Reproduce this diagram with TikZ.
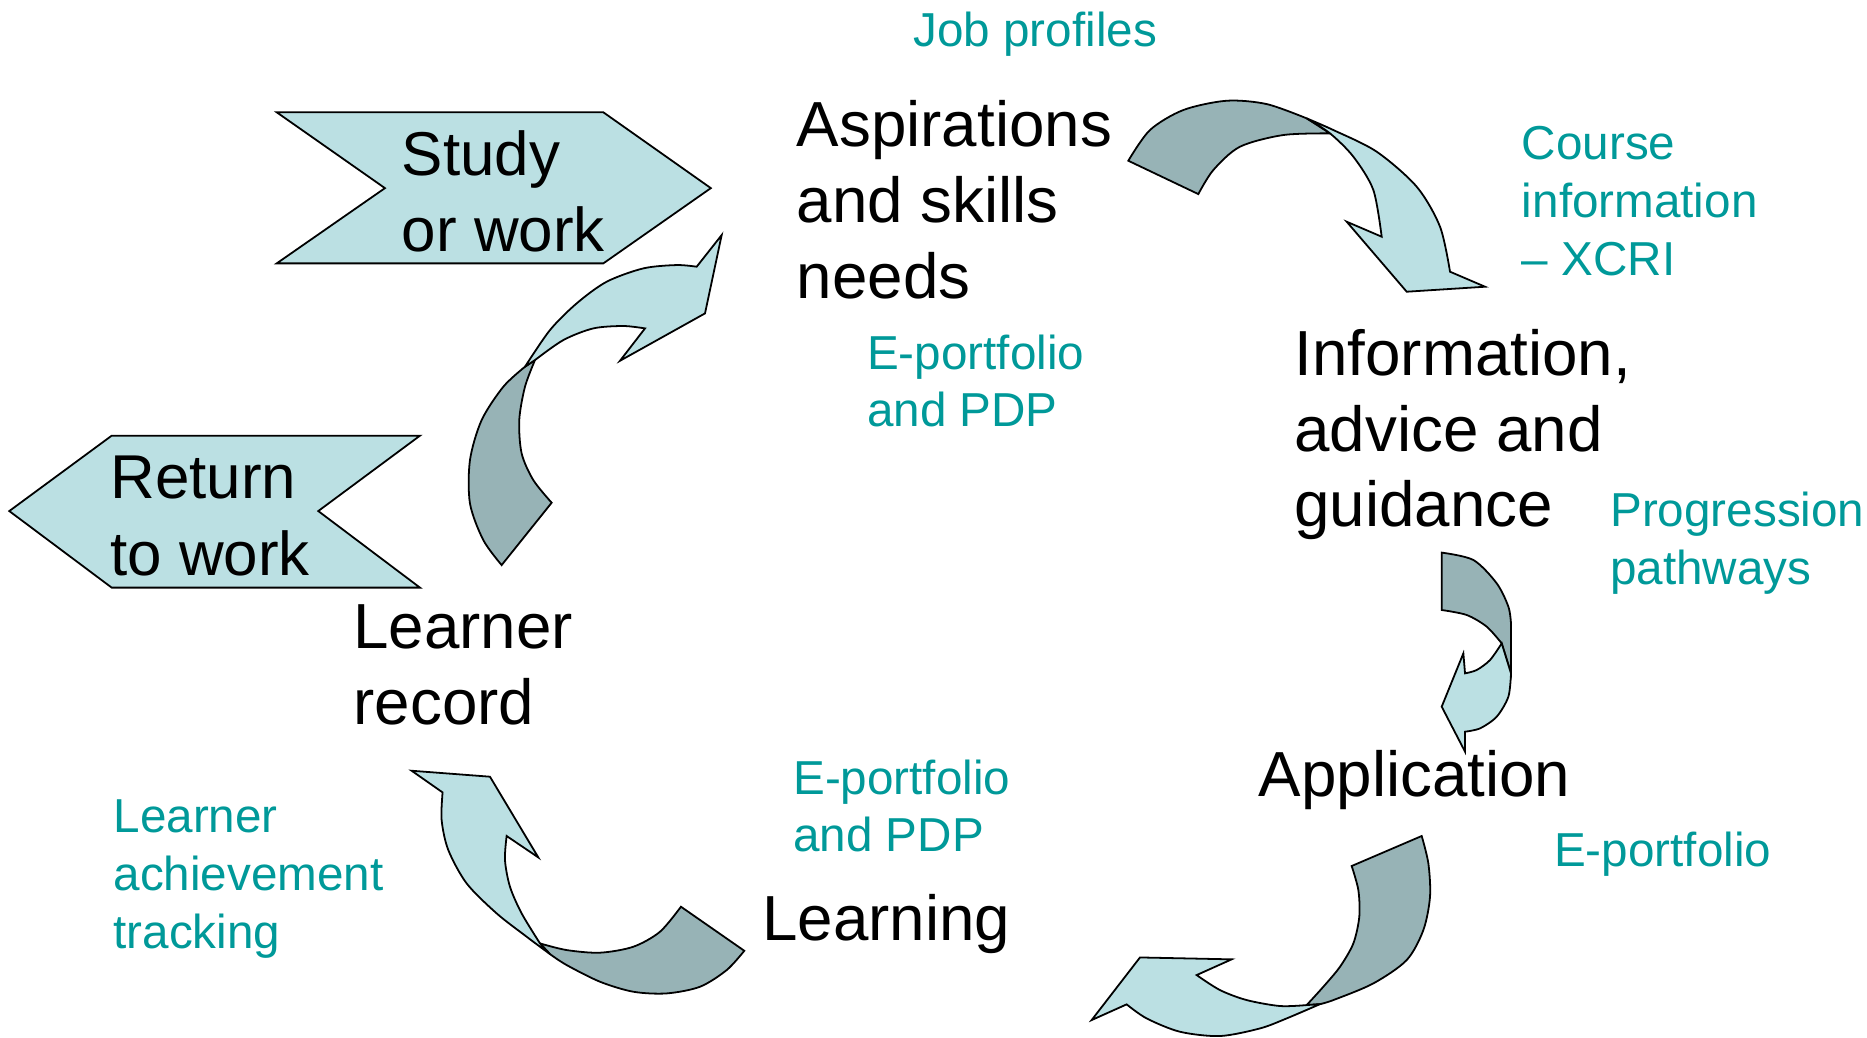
\documentclass[tikz,border=0pt]{standalone}
\usepackage{fontspec}
\setmainfont{Liberation Sans}
\definecolor{lightfill}{HTML}{BBE0E3}
\definecolor{darkfill}{HTML}{97B3B6}
\definecolor{tealtext}{HTML}{009999}
\begin{document}
\begin{tikzpicture}[x=1pt,y=-1pt,
  lightpart/.style={fill=lightfill, draw=black, line width=1.5pt},
  darkpart/.style={fill=darkfill, draw=black, line width=1.5pt},
  chevron/.style={fill=lightfill, draw=black, line width=1.5pt},
  stage/.style={font=\fontsize{53.5}{63.5}\selectfont, align=left, inner sep=0pt, anchor=base west},
  chevtext/.style={font=\fontsize{52}{64}\selectfont, align=left, inner sep=0pt, anchor=base west},
  note/.style={font=\fontsize{40}{48.5}\selectfont, text=tealtext, align=left, inner sep=0pt, anchor=base west}]
\useasboundingbox (0,0) rectangle (1568,871);

% chevrons
\draw[chevron] (232.4,94.3) -- (506.7,94.3) -- (597,158) -- (506.7,221.2) -- (232.4,221.2) -- (323.3,158) -- cycle;
\draw[chevron] (7.8,429.2) -- (93.8,365.9) -- (352.7,365.9) -- (267.3,429.2) -- (352.7,493.5) -- (93.8,493.5) -- cycle;

% arrow A: aspirations -> information
\draw[darkpart] plot[smooth] coordinates {(947.6,135) (965.8,109.2) (993.8,92.4) (1030.2,84.6) (1063.8,87.4) (1097.4,99.4)}
  -- (1117,112) -- plot[smooth] coordinates {(1117,112) (1077.8,113.4) (1041.4,123.2) (1019,142.8) (1006.4,163)} -- cycle;
\draw[lightpart] plot[smooth] coordinates {(1097.4,99.4) (1119.8,109.2) (1156.2,127.4) (1189.8,156.8) (1209.4,190.4) (1217.8,228.2)}
  -- (1247.2,240.8) -- (1181.4,245) -- (1131,186.2)
  -- plot[smooth] coordinates {(1160.4,198.8) (1153.4,159.6) (1136.6,131.6) (1117,112) (1097.4,99.4)} -- cycle;

% arrow B: information -> application
\draw[darkpart] plot[smooth] coordinates {(1210.8,464.1) (1237.4,470.3) (1257,489.9) (1266.8,509.5) (1269,523.5)}
  -- (1269,565.5) -- (1261.2,540.3)
  -- plot[smooth] coordinates {(1261.2,540.3) (1248.6,526.3) (1231.8,516.5) (1210.8,512.3)} -- cycle;
\draw[lightpart] (1261.2,540.3) -- plot[smooth] coordinates {(1269,565.5) (1266.8,585.1) (1257,601.9) (1243,611.7) (1230.4,614.5)}
  -- (1230.4,631.3) -- (1210.8,593.5) -- (1229,548.7)
  -- plot[smooth] coordinates {(1230.4,565.5) (1240.2,562.7) (1251.4,554.3) (1261.2,540.3)} -- cycle;

% arrow C: application -> learning
\draw[darkpart] plot[smooth] coordinates {(1194,702.1) (1199.6,725.1) (1201,753.1) (1195.4,781.1) (1181.4,806.3) (1153.4,825.9) (1119.8,839.9) (1108.6,843.3)}
  -- (1097.4,844.1)
  -- plot[smooth] coordinates {(1097.4,844.1) (1111.4,828.7) (1125.4,811.9) (1136.6,792.3) (1141.6,769.9) (1140.8,747.5) (1135.2,727.3)} -- cycle;
\draw[lightpart] plot[smooth] coordinates {(1108.6,843.3) (1080.6,855.3) (1058.2,863.7) (1024.6,870.1) (991,866.5) (963,855.3) (946.2,843.5)}
  -- (916.8,856.7) -- (957.4,804.1) -- (1034.4,805.7)
  -- plot[smooth] coordinates {(1005,818.9) (1024.6,831.5) (1047,839.9) (1075,844.9) (1097.4,844.1)} -- cycle;

% arrow D: learning -> learner record
\draw[darkpart] (571.9,761.5) -- plot[smooth] coordinates {(625.1,798.5) (610.3,814.7) (587.9,828.7) (559.9,834.3) (531.9,832.9) (503.9,824.5) (475.9,810.5) (461.9,801.3)}
  -- (453.5,792.3)
  -- plot[smooth] coordinates {(453.5,792.3) (475.9,797.9) (503.9,800.1) (531.9,795.1) (554.3,782.5) (571.9,761.5)} -- cycle;
\draw[lightpart] plot[smooth] coordinates {(461.9,801.3) (442.3,786.7) (417.1,767.1) (391.9,741.9) (376.5,713.9) (370.9,688.7) (371.7,665.5)}
  -- (345.7,647.3) -- (411.5,652.3) -- (452.1,720.1)
  -- plot[smooth] coordinates {(425.5,702.1) (424.1,722.3) (428.3,744.7) (438.1,767.1) (453.5,792.3)} -- cycle;

% arrow E: learner record -> aspirations
\draw[darkpart] plot[smooth] coordinates {(421.3,474.6) (405.9,453.6) (394.7,422.8) (394.7,386.4) (404.5,352.8) (422.7,324.8) (440.9,308)}
  -- (449.3,302.4)
  -- plot[smooth] coordinates {(449.3,302.4) (440.9,324.8) (436.1,352.8) (438.1,380.8) (447.9,403.2) (463.3,422.2)} -- cycle;
\draw[lightpart] plot[smooth] coordinates {(440.9,308) (461.9,277.2) (484.3,254.8) (509.5,236.6) (540.3,225.4) (568.3,222.6) (585.1,224)}
  -- (606.1,197.4) -- (592.1,263.2) -- (520.7,303)
  -- plot[smooth] coordinates {(541.7,275.8) (523.5,273.8) (498.3,275.8) (473.1,285.6) (449.3,302.4)} -- cycle;

% stage labels (anchor = baseline of the last line)
\node[chevtext] (study) at (337.3,211) {Study\\or work};
\node[chevtext] (return) at (92.5,483) {Return\\to work};
\node[stage] (asp) at (669,250.3) {Aspirations\\and skills\\needs};
\node[stage] (iag) at (1087,442.5) {Information,\\advice and\\guidance};
\node[stage] (app) at (1057,669) {Application};
\node[stage] (learning) at (640,790) {Learning};
\node[stage] (record) at (296.7,608.5) {Learner\\record};

% notes
\node[note] (jobs) at (767,39.2) {Job profiles};
\node[note] (course) at (1278,231) {Course\\information\\– XCRI};
\node[note] (eport1) at (728,358.5) {E-portfolio\\and PDP};
\node[note] (prog) at (1352.2,490.8) {Progression\\pathways};
\node[note] (eport2) at (1305,728) {E-portfolio};
\node[note] (eport3) at (666,715.5) {E-portfolio\\and PDP};
\node[note] (track) at (95.2,796.3) {Learner\\achievement\\tracking};
\end{tikzpicture}
\end{document}
